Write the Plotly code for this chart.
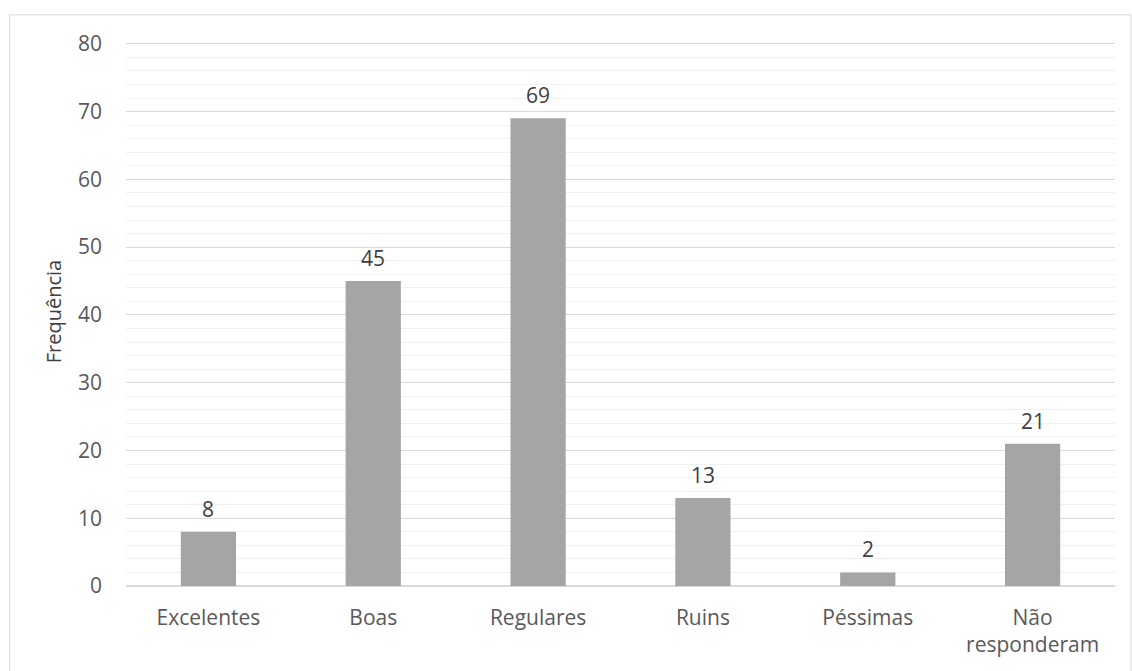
import plotly.graph_objects as go

categories = ["Excelentes", "Boas", "Regulares", "Ruins", "Péssimas", "Não<br>responderam"]
frequencia = [8, 45, 69, 13, 2, 21]
y_ticks = [0, 10, 20, 30, 40, 50, 60, 70, 80]

W, H = 1132, 671
y_max = 81
left, right, bottom = 126, 1115, 586.5
px_per_unit = (586.5 - 43.5) / 80
top = bottom - y_max * px_per_unit
pw, ph = right - left, bottom - top

font_family = "Open Sans, Noto Sans, sans-serif"
text_color = "#595959"

fig = go.Figure(
    go.Bar(
        x=categories,
        y=frequencia,
        marker=dict(color="#A5A5A5", line=dict(width=0)),
        width=0.335,
        hoverinfo="x+y",
    )
)

# Value labels sitting a little above each bar
for cat, val in zip(categories, frequencia):
    fig.add_annotation(
        x=cat, y=val, xref="x", yref="y",
        text=str(val),
        showarrow=False,
        yanchor="bottom",
        yshift=7,
        font=dict(family=font_family, size=21, color="#404040"),
    )

fig.update_layout(
    width=W,
    height=H,
    margin=dict(l=left, r=W - right, t=top, b=H - bottom, pad=0),
    paper_bgcolor="white",
    plot_bgcolor="white",
    showlegend=False,
    font=dict(family=font_family, color=text_color),
)

fig.update_xaxes(
    range=[-0.5, len(categories) - 0.5],
    showgrid=False,
    showline=False,
    ticks="",
    tickfont=dict(size=21, color=text_color),
    ticklabelstandoff=17,
    fixedrange=True,
)

fig.update_yaxes(
    range=[0, y_max],
    tickvals=y_ticks,
    showgrid=True,
    gridcolor="#D9D9D9",
    gridwidth=1,
    minor=dict(tickvals=[v for v in range(2, 80, 2) if v % 10], showgrid=True,
               gridcolor="#F0F0F0", gridwidth=1),
    zeroline=True,
    zerolinecolor="#D9D9D9",
    zerolinewidth=1.5,
    showline=False,
    ticks="",
    tickfont=dict(size=21, color=text_color),
    ticklabelstandoff=23,
    title=dict(text="Frequência", font=dict(size=20, color="#404040"), standoff=10),
    fixedrange=True,
)

# Outer chart border
fig.add_shape(
    type="rect",
    xref="paper", yref="paper",
    x0=(9.5 - left) / pw, x1=(1131 - left) / pw,
    y0=(bottom - 690) / ph, y1=(bottom - 14.5) / ph,
    line=dict(color="#D9D9D9", width=1),
    fillcolor="rgba(0,0,0,0)",
    layer="below",
)

fig.write_html("out.html")
